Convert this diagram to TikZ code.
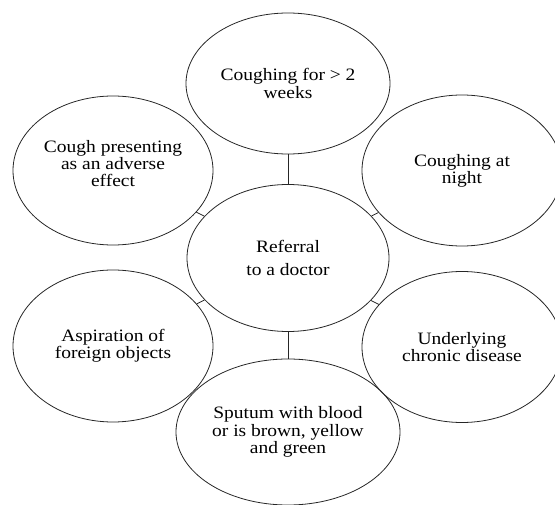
\documentclass[tikz,border=0pt]{standalone}
\usepackage{fontspec}
\setmainfont[FakeStretch=1.12]{Liberation Serif}
\usetikzlibrary{shapes.geometric}
\begin{document}
\begin{tikzpicture}[x=1pt,y=-1pt,
  bubble/.style={ellipse,draw=black!85,line width=0.8pt,inner sep=0pt,align=center,
    font=\fontsize{17.4pt}{17.2pt}\selectfont},
  link/.style={draw=black!85,line width=0.8pt}]
\useasboundingbox (0,0) rectangle (555,505);
\node[bubble,minimum width=204pt,minimum height=141pt] (top) at (288,83.5) {Coughing for > 2\\weeks};
\node[bubble,minimum width=200pt,minimum height=149pt,text depth=14pt] (tl) at (113,170.5) {Cough presenting\\as an adverse\\effect};
\node[bubble,minimum width=200pt,minimum height=151pt] (tr) at (462,170.5) {Coughing at\\night};
\node[bubble,minimum width=202pt,minimum height=147pt] (c) at (288,258) {Referral\\[6.5pt]to a doctor};
\node[bubble,minimum width=200pt,minimum height=152pt] (bl) at (113,346) {Aspiration of\\foreign objects};
\node[bubble,minimum width=200pt,minimum height=151pt] (br) at (462,347) {Underlying\\chronic disease};
\node[bubble,minimum width=224pt,minimum height=146pt] (b) at (288,432) {Sputum with blood\\or is brown, yellow\\and green};
\draw[link] (top) -- (c);
\draw[link] (c) -- (b);
\draw[link] (c) -- (tl);
\draw[link] (c) -- (tr);
\draw[link] (c) -- (bl);
\draw[link] (c) -- (br);
\end{tikzpicture}
\end{document}
